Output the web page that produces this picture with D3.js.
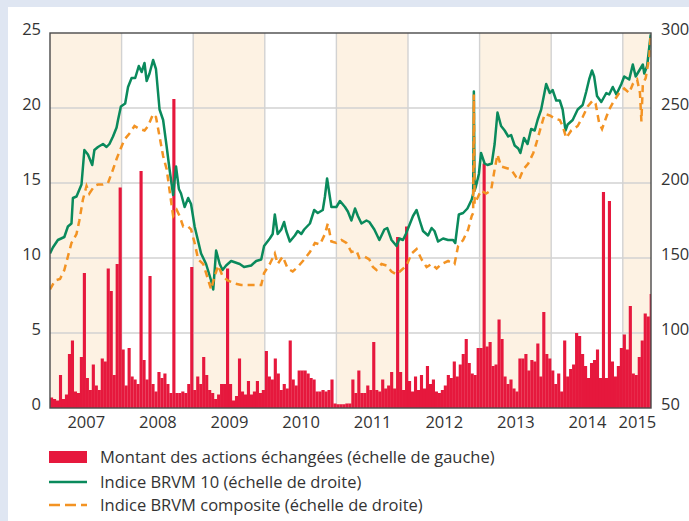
<!DOCTYPE html>
<html>
<head>
<meta charset="utf-8">
<script src="https://cdn.jsdelivr.net/npm/d3@7"></script>
<style>
body { margin: 0; background: #dfe6f2; }
svg text { font-family: "Open Sans", sans-serif; fill: #333; }
</style>
</head>
<body>
<svg id="chart" width="689" height="521"></svg>
<script>
// montant des actions echangees, one value per half-month (echelle de gauche)
var montant2007 = [0.7,0.6,0.5,2.2,0.6,0.9,3.6,4.5,1.1,1.0,3.4,9.0,2.0,1.2,2.9,1.5,1.2,3.3,3.1,9.3,7.8,2.2,9.6,14.7]
var montant2008 = [3.9,1.5,4.0,2.1,1.9,1.6,15.8,3.2,1.9,8.8,1.6,1.1,2.4,2.0,2.3,1.6,1.0,20.6,1.0,1.0,1.1,1.0,1.6,9.4]
var montant2009 = [1.2,2.1,1.6,3.4,2.2,1.2,1.0,0.6,0.9,1.6,1.6,9.3,1.6,0.5,0.8,3.3,1.1,0.9,1.8,0.9,1.1,1.8,1.0,1.2]
var montant2010 = [3.8,2.1,1.9,3.3,2.3,1.2,1.6,1.3,4.5,1.9,1.5,2.5,2.5,2.5,2.3,2.0,1.9,1.1,1.1,1.2,1.1,1.2,1.9,0.3]
var montant2011 = [0.25,0.25,0.25,0.3,0.3,1.9,1.0,2.5,1.0,1.0,1.5,1.2,4.4,1.2,1.1,1.9,1.3,1.5,2.4,1.3,11.4,2.4,1.2,12.1]
var montant2012 = [1.8,1.1,2.1,1.2,2.2,1.3,2.8,1.6,1.9,1.1,1.0,1.2,1.5,2.2,2.0,3.1,2.1,2.9,3.6,4.6,3.0,2.3,2.2,4.0]
var montant2013 = [4.0,16.3,4.1,4.4,2.8,2.9,5.9,4.6,2.1,1.6,1.9,1.3,1.1,3.3,3.3,3.6,2.5,3.2,3.1,4.3,2.1,6.4,3.6,3.3]
var montant2014 = [2.5,1.6,2.3,1.1,4.5,2.1,2.6,2.9,5.0,4.8,3.6,2.8,2.0,3.0,3.2,3.9,2.0,14.4,2.0,13.8,3.1,2.1,2.8,4.0]
var montant2015 = [4.9,3.9,6.8,2.3,2.2,3.4,4.5,6.3,6.1,7.6]

// indices (echelle de droite), [annee decimale, valeur]
var brvm10 = [
  [2007.00,153],[2007.04,157],[2007.11,162],[2007.20,164],[2007.25,171],[2007.30,173],[2007.32,190],[2007.37,191],
  [2007.44,199],[2007.48,222],[2007.53,219],[2007.59,212],[2007.62,222],[2007.67,224],[2007.74,226],[2007.79,224],
  [2007.83,226],[2007.88,231],[2007.93,237],[2007.95,242],[2007.99,251],[2008.05,253],[2008.09,264],[2008.14,270],
  [2008.19,270],[2008.24,278],[2008.28,274],[2008.32,280],[2008.35,268],[2008.39,273],[2008.44,282],[2008.48,276],
  [2008.53,249],[2008.58,242],[2008.63,224],[2008.67,209],[2008.72,192],[2008.76,211],[2008.80,196],[2008.83,193],
  [2008.88,184],[2008.93,190],[2008.97,186],[2009.02,171],[2009.07,161],[2009.11,153],[2009.18,146],[2009.25,135],
  [2009.28,129],[2009.32,155],[2009.37,146],[2009.41,142],[2009.46,145],[2009.53,148],[2009.65,146],[2009.71,144],
  [2009.81,145],[2009.88,148],[2009.95,149],[2009.99,158],[2010.07,163],[2010.11,166],[2010.14,179],[2010.18,166],
  [2010.23,169],[2010.27,174],[2010.30,168],[2010.35,161],[2010.42,165],[2010.46,168],[2010.51,166],[2010.55,169],
  [2010.63,173],[2010.69,182],[2010.74,180],[2010.81,182],[2010.84,191],[2010.87,203],[2010.93,184],[2011.00,184],
  [2011.05,188],[2011.12,184],[2011.16,181],[2011.21,175],[2011.26,183],[2011.30,178],[2011.35,173],[2011.42,175],
  [2011.46,174],[2011.53,169],[2011.60,162],[2011.67,169],[2011.71,170],[2011.77,162],[2011.84,158],[2011.88,163],
  [2011.93,162],[2011.97,166],[2012.02,172],[2012.07,178],[2012.12,182],[2012.17,174],[2012.21,168],[2012.28,165],
  [2012.33,170],[2012.37,168],[2012.42,161],[2012.49,163],[2012.56,162],[2012.63,162],[2012.66,160],[2012.71,179],
  [2012.77,180],[2012.83,183],[2012.89,189],[2012.91,193],[2012.92,261],[2012.93,195],[2012.95,198],[2012.99,206],
  [2013.02,220],[2013.07,213],[2013.11,212],[2013.17,213],[2013.21,226],[2013.25,247],[2013.30,238],[2013.35,235],
  [2013.40,231],[2013.44,232],[2013.49,225],[2013.54,223],[2013.57,220],[2013.62,230],[2013.67,226],[2013.72,236],
  [2013.77,235],[2013.81,242],[2013.86,249],[2013.93,266],[2013.98,260],[2014.02,262],[2014.07,255],[2014.12,255],
  [2014.16,249],[2014.20,235],[2014.23,239],[2014.30,242],[2014.37,249],[2014.44,252],[2014.49,261],[2014.53,269],
  [2014.57,275],[2014.60,271],[2014.64,258],[2014.70,254],[2014.77,260],[2014.81,259],[2014.86,264],[2014.91,259],
  [2014.98,266],[2015.02,271],[2015.09,269],[2015.14,279],[2015.18,271],[2015.23,275],[2015.28,279],[2015.30,273],
  [2015.34,278],[2015.39,299]
]
var brvmComposite = [
  [2007.00,129],[2007.07,135],[2007.14,136],[2007.20,142],[2007.25,151],[2007.30,160],[2007.37,166],[2007.41,175],
  [2007.46,189],[2007.51,198],[2007.55,193],[2007.62,198],[2007.67,199],[2007.74,199],[2007.81,200],[2007.88,209],
  [2007.93,216],[2007.97,221],[2008.04,229],[2008.11,233],[2008.18,238],[2008.25,236],[2008.32,235],[2008.37,238],
  [2008.44,246],[2008.48,244],[2008.53,231],[2008.58,218],[2008.63,209],[2008.67,195],[2008.72,178],[2008.77,182],
  [2008.81,178],[2008.86,171],[2008.93,171],[2008.97,169],[2009.02,160],[2009.07,149],[2009.14,146],[2009.18,140],
  [2009.25,129],[2009.30,138],[2009.35,145],[2009.41,138],[2009.48,135],[2009.58,133],[2009.67,132],[2009.77,132],
  [2009.86,132],[2009.95,132],[2009.99,140],[2010.07,146],[2010.14,153],[2010.18,146],[2010.25,151],[2010.32,143],
  [2010.39,141],[2010.46,144],[2010.55,149],[2010.63,154],[2010.70,160],[2010.77,159],[2010.84,166],[2010.88,173],
  [2010.93,161],[2011.00,160],[2011.07,162],[2011.14,160],[2011.21,154],[2011.28,155],[2011.32,150],[2011.39,151],
  [2011.46,149],[2011.51,144],[2011.56,142],[2011.63,146],[2011.70,145],[2011.77,141],[2011.84,139],[2011.91,142],
  [2011.98,145],[2012.05,153],[2012.12,156],[2012.19,149],[2012.26,144],[2012.33,146],[2012.40,143],[2012.47,146],
  [2012.56,148],[2012.65,146],[2012.70,158],[2012.77,162],[2012.84,169],[2012.89,178],[2012.91,180],[2012.92,259],
  [2012.93,186],[2012.98,191],[2013.02,195],[2013.09,193],[2013.16,195],[2013.21,209],[2013.25,219],[2013.30,211],
  [2013.37,210],[2013.44,209],[2013.51,204],[2013.55,202],[2013.61,209],[2013.68,213],[2013.75,220],[2013.79,226],
  [2013.86,238],[2013.91,246],[2013.98,245],[2014.05,243],[2014.12,242],[2014.16,238],[2014.21,230],[2014.28,235],
  [2014.37,238],[2014.44,244],[2014.51,251],[2014.58,255],[2014.62,253],[2014.67,240],[2014.71,236],[2014.77,244],
  [2014.81,249],[2014.88,255],[2014.95,260],[2015.02,263],[2015.09,260],[2015.14,266],[2015.20,269],[2015.24,260],
  [2015.26,241],[2015.28,266],[2015.32,270],[2015.37,284],[2015.39,299]
]

var years = [2007,2008,2009,2010,2011,2012,2013,2014,2015]
var leftTicks = [0,5,10,15,20,25]
var rightTicks = [50,100,150,200,250,300]
var legendLabels = [
  "Montant des actions échangées (échelle de gauche)",
  "Indice BRVM 10 (échelle de droite)",
  "Indice BRVM composite (échelle de droite)"
]

var RED = "#e6183d", GREEN = "#0a8a5c", ORANGE = "#f39323"
var endYear = 2015.394
var pL = 50, pR = 651, pT = 33, pB = 408
var FS = 16.5

var svg = d3.select("#chart")
svg.append("rect").attr("x", 8).attr("y", 7).attr("width", 681).attr("height", 514).attr("fill", "#fff")

var x = d3.scaleLinear().domain([2007, endYear]).range([pL, pR])
var yL = d3.scaleLinear().domain([0, 25]).range([pB, pT])
var yR = d3.scaleLinear().domain([50, 300]).range([pB, pT])

svg.append("clipPath").attr("id", "plot")
  .append("rect").attr("x", pL).attr("y", pT).attr("width", pR - pL).attr("height", pB - pT)

var plot = svg.append("g").attr("clip-path", "url(#plot)")

// alternating year bands
plot.selectAll(".band").data(years.filter(function(y, i) { return i % 2 == 0 }))
  .enter().append("rect")
  .attr("x", function(d) { return x(d) })
  .attr("width", function(d) { return x(Math.min(d + 1, endYear)) - x(d) })
  .attr("y", pT).attr("height", pB - pT)
  .attr("fill", "#fdf2e3")

// grid
plot.selectAll(".hgrid").data(leftTicks.slice(1, -1)).enter().append("line")
  .attr("x1", pL).attr("x2", pR)
  .attr("y1", function(d) { return yL(d) }).attr("y2", function(d) { return yL(d) })
  .attr("stroke", "#d2d2d2").attr("stroke-width", 1.4)
plot.selectAll(".vgrid").data(years.slice(1)).enter().append("line")
  .attr("y1", pT).attr("y2", pB)
  .attr("x1", function(d) { return x(d) }).attr("x2", function(d) { return x(d) })
  .attr("stroke", "#d2d2d2").attr("stroke-width", 1.4)

// bars: half-month slots
var allMontant = [montant2007, montant2008, montant2009, montant2010, montant2011,
  montant2012, montant2013, montant2014, montant2015]
var bars = []
allMontant.forEach(function(arr, i) {
  arr.forEach(function(v, k) { bars.push({ t: years[i] + k / 24, v: v }) })
})
var bw = x(2007 + 1 / 24) - x(2007)
plot.selectAll(".bar").data(bars).enter().append("rect")
  .attr("x", function(d) { return x(d.t) })
  .attr("width", bw + 0.15)
  .attr("y", function(d) { return yL(d.v) })
  .attr("height", function(d) { return yL(0) - yL(d.v) })
  .attr("fill", RED)

// lines (composite drawn over BRVM 10)
var line = d3.line().x(function(d) { return x(d[0]) }).y(function(d) { return yR(d[1]) })
plot.append("path").datum(brvm10).attr("d", line)
  .attr("fill", "none").attr("stroke", GREEN).attr("stroke-width", 2.5)
  .attr("stroke-linejoin", "round")
plot.append("path").datum(brvmComposite).attr("d", line)
  .attr("fill", "none").attr("stroke", ORANGE).attr("stroke-width", 2.5)
  .attr("stroke-dasharray", "7,5")

// frame
svg.append("rect").attr("x", pL).attr("y", pT).attr("width", pR - pL).attr("height", pB - pT)
  .attr("fill", "none").attr("stroke", "#4a4a4a").attr("stroke-width", 1.4)

// axes
var axL = svg.append("g").attr("transform", "translate(" + pL + ",0)")
  .call(d3.axisLeft(yL).tickValues(leftTicks).tickSize(0).tickPadding(9))
var axR = svg.append("g").attr("transform", "translate(" + pR + ",0)")
  .call(d3.axisRight(yR).tickValues(rightTicks).tickSize(0).tickPadding(10))
var mids = years.map(function(y) { return (y + Math.min(y + 1, endYear)) / 2 })
var axB = svg.append("g").attr("transform", "translate(0," + pB + ")")
  .call(d3.axisBottom(x).tickValues(mids).tickSize(0).tickPadding(8)
    .tickFormat(function(d) { return Math.floor(d) }))
;[axL, axR, axB].forEach(function(ax) {
  ax.select(".domain").remove()
  ax.selectAll("text").attr("font-size", FS).attr("font-family", null).attr("fill", "#333")
})
axL.selectAll("text").attr("dy", "0.12em")
axR.selectAll("text").attr("dy", "0.12em")

// legend
var lg = svg.append("g")
lg.append("rect").attr("x", 49).attr("y", 451).attr("width", 38).attr("height", 12).attr("fill", RED)
lg.append("line").attr("x1", 49).attr("x2", 87).attr("y1", 482).attr("y2", 482)
  .attr("stroke", GREEN).attr("stroke-width", 2.6)
lg.append("line").attr("x1", 49).attr("x2", 87).attr("y1", 505).attr("y2", 505)
  .attr("stroke", ORANGE).attr("stroke-width", 2.6).attr("stroke-dasharray", "11,5")
lg.selectAll("text").data(legendLabels).enter().append("text")
  .attr("x", 100).attr("y", function(d, i) { return [463, 488, 511][i] })
  .attr("font-size", FS)
  .text(function(d) { return d })
</script>
</body>
</html>
